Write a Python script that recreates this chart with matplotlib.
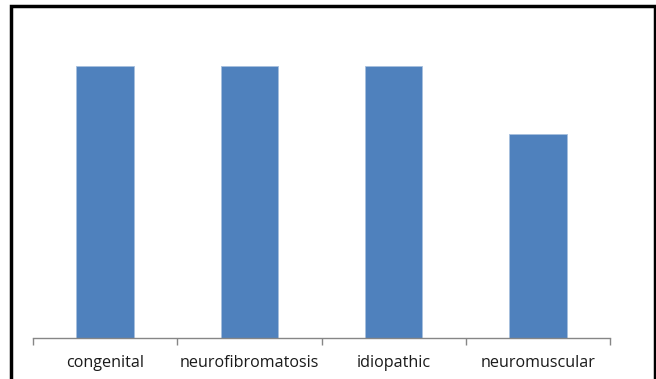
import matplotlib.pyplot as plt
from matplotlib.patches import Rectangle

categories = ["congenital", "neurofibromatosis", "idiopathic", "neuromuscular"]
values = [4, 4, 4, 3]

W, H = 656, 379
fig = plt.figure(figsize=(W / 100, H / 100), dpi=100)

# axes placed in pixel terms
x0, x1 = 33, 610
base, top = 338, 32
ax = fig.add_axes([x0 / W, (H - base) / H, (x1 - x0) / W, (base - top) / H])

pos = range(len(categories))
ax.bar(pos, values, width=0.4, color="#4F81BD", edgecolor="#A7BFDE", linewidth=0.6)

ax.set_xlim(-0.5, len(categories) - 0.5)
ax.set_ylim(0, 4.5)

for s in ["top", "right", "left"]:
    ax.spines[s].set_visible(False)
ax.spines["bottom"].set_color("#868686")
ax.spines["bottom"].set_linewidth(1)
ax.set_yticks([])

# ticks between categories, labels centred under bars
ax.set_xticks([i - 0.5 for i in range(len(categories) + 1)])
ax.set_xticklabels([])
ax.tick_params(axis="x", direction="out", length=5, color="#868686", width=1)
ax.set_xticks(list(pos), minor=True)
ax.set_xticklabels(categories, minor=True, fontsize=11.6, family="Open Sans", color="#1a1a1a")
ax.tick_params(axis="x", which="minor", length=0, pad=12.5)

# outer black frame (bottom edge falls outside the image)
fig.patches.append(Rectangle((11 / W, -0.05), (655 - 11) / W, (H - 6) / H + 0.05,
                             transform=fig.transFigure, fill=False,
                             edgecolor="black", linewidth=2.5))

fig.savefig("out.png", dpi=100)
